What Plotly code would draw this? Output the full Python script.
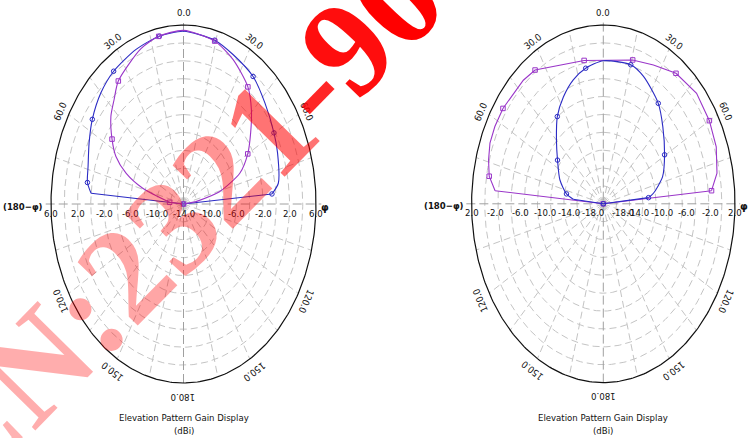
import numpy as np
import plotly.graph_objects as go

# ---------------- data ----------------
# Left chart : gain scale -14 dBi (centre) .. 6 dBi (rim)
left_rmin, left_rmax = -14.0, 6.0
left_ticks = [6.0, 2.0, -2.0, -6.0, -10.0, -14.0]

left_blue_theta = [-90, -85.1, -80.6, -73.8, -64.4, -55.5, -45.1, -35.4, -22.5, -11.0, 0.0,
                   14.4, 24.1, 36.4, 47.3, 59.8, 68.1, 80.8, 85.2, 90]
left_blue_gain = [-14.0, 0.0, 0.7, 1.0, 1.8, 2.7, 3.6, 4.2, 4.7, 5.1, 5.3,
                  4.9, 4.3, 3.7, 2.7, 1.8, 1.3, 0.5, -0.6, -14.0]
left_blue_mk_theta = [-80.6, -55.5, -35.4, -11.0, 14.4, 36.4, 59.8, 85.2, 90]
left_blue_mk_gain = [0.7, 2.7, 4.2, 5.1, 4.9, 3.7, 1.8, -0.6, -14.0]

left_purple_theta = [-90, -84.8, -74.0, -68.4, -62.5, -56.1, -48.2, -41.8, -35.6, -20.3, -11.3, 0.0,
                     14.5, 24.8, 36.6, 44.2, 51.8, 60.0, 67.9, 75.8, 82.0, 90]
left_purple_gain = [-14.0, -11.9, -7.6, -4.7, -2.5, -1.0, 0.7, 1.7, 2.9, 4.5, 5.1, 5.4,
                    4.8, 3.8, 2.3, 0.7, -1.1, -2.8, -4.8, -8.4, -12.1, -14.0]
left_purple_mk_theta = [-84.8, -56.1, -35.6, -11.3, 14.5, 36.6, 60.0, 90]
left_purple_mk_gain = [-11.9, -1.0, 2.9, 5.1, 4.8, 2.3, -2.8, -14.0]

# Right chart : gain scale -18 dBi (centre) .. 2 dBi (rim)
right_rmin, right_rmax = -18.0, 2.0
right_ticks = [2.0, -2.0, -6.0, -10.0, -14.0, -18.0]

right_blue_theta = [-90, -83.7, -78.8, -68.0, -54.9, -44.8, -35.6, -26.9, -18.2, -10.0, 0.0,
                    15.0, 23.2, 36.6, 46.3, 59.5, 71.4, 81.2, 84.3, 90]
right_blue_gain = [-18.0, -13.4, -12.3, -10.9, -9.5, -7.9, -6.0, -4.6, -3.4, -2.6, -2.0,
                   -1.9, -2.5, -4.0, -5.5, -7.2, -8.5, -10.3, -11.1, -18.0]
right_blue_mk_theta = [-78.8, -54.9, -35.6, -10.0, 15.0, 36.6, 59.5, 84.3, 90]
right_blue_mk_gain = [-12.3, -9.5, -6.0, -2.6, -1.9, -4.0, -7.2, -11.1, -18.0]

right_purple_theta = [-90, -84.9, -79.9, -74.3, -68.5, -62.3, -55.0, -41.3, -34.7, -10.3,
                      15.5, 26.1, 37.1, 48.9, 60.0, 69.6, 78.8, 84.9, 90]
right_purple_gain = [-18.0, -1.5, -0.4, 0.1, 0.5, 0.6, 0.6, 0.4, 0.2, -1.7,
                     -1.3, -0.7, 0.3, 0.8, 0.6, 0.3, -0.4, -1.5, -18.0]
right_purple_mk_theta = [-79.9, -55.0, -34.7, -10.3, 15.5, 37.1, 60.0, 84.9, 90]
right_purple_mk_gain = [-0.4, 0.6, 0.2, -1.7, -1.3, 0.3, 0.6, -1.5, -18.0]

angle_labels = [0, 30, 60, 120, 150, 180]
title_text = "Elevation Pattern Gain Display"
unit_text = "(dBi)"
left_axis_label = "(180\u2212\u03c6)"
right_axis_label = "\u03c6"
watermark_chars = ["C", "N", ":", "2", "3", "2", "1", "-", "9", "0", "."]
watermark_alpha = [0.30, 0.32, 0.35, 0.35, 0.37, 0.42, 0.55, 0.85, 0.95, 1.0, 1.0]

# ---------------- layout geometry (pixels) ----------------
W, H = 749, 438
GEOM = [dict(cx=183.5, cy=204.0, a=132.5, b=179.0, dom=(0.0, 0.5), push=0.0),
        dict(cx=603.3, cy=203.8, a=131.7, b=178.8, dom=(0.5, 1.0), push=10.0)]

BLUE = "#2b2bc4"
PURPLE = "#9a36c9"
GRID = "#c4c4c4"
AXISC = "#a0a0a0"
FONT = "DejaVu Sans Condensed, Liberation Sans Narrow, Arial Narrow, Liberation Sans, Arial"

fig = go.Figure()
annotations = []


def to_xy(theta_deg, gain, rmin, rmax):
    t = np.radians(np.asarray(theta_deg, dtype=float))
    rn = (np.clip(np.asarray(gain, dtype=float), rmin, rmax) - rmin) / (rmax - rmin)
    return rn * np.sin(t), rn * np.cos(t)


panels = [
    dict(rmin=left_rmin, rmax=left_rmax, ticks=left_ticks,
         curves=[(left_blue_theta, left_blue_gain, left_blue_mk_theta, left_blue_mk_gain, BLUE, "circle-open", "spline"),
                 (left_purple_theta, left_purple_gain, left_purple_mk_theta, left_purple_mk_gain, PURPLE, "square-open", "spline")]),
    dict(rmin=right_rmin, rmax=right_rmax, ticks=right_ticks,
         curves=[(right_purple_theta, right_purple_gain, right_purple_mk_theta, right_purple_mk_gain, PURPLE, "square-open", "linear"),
                 (right_blue_theta, right_blue_gain, right_blue_mk_theta, right_blue_mk_gain, BLUE, "circle-open", "spline")]),
]

phi = np.linspace(0, 2 * np.pi, 361)
layout_axes = {}
for i, (pn, g) in enumerate(zip(panels, GEOM)):
    xa = "x" if i == 0 else "x2"
    ya = "y" if i == 0 else "y2"
    rmin, rmax = pn["rmin"], pn["rmax"]
    span = rmax - rmin
    # rings every 2 dB
    nring = int(round(span / 2))
    for k in range(1, nring):
        rr = k / nring
        fig.add_trace(go.Scatter(x=rr * np.sin(phi), y=rr * np.cos(phi), mode="lines", xaxis=xa, yaxis=ya,
                                 line=dict(color=GRID, width=1, dash="7px,4px"), hoverinfo="skip", showlegend=False))
    # spokes every 15 deg
    for ang in range(0, 360, 15):
        if ang % 90 == 0:
            continue
        t = np.radians(ang)
        fig.add_trace(go.Scatter(x=[0, np.sin(t)], y=[0, np.cos(t)], mode="lines", xaxis=xa, yaxis=ya,
                                 line=dict(color=GRID, width=1, dash="7px,4px"), hoverinfo="skip", showlegend=False))
    # main axes
    fig.add_trace(go.Scatter(x=[-1.04, 1.04], y=[0, 0], mode="lines", xaxis=xa, yaxis=ya,
                             line=dict(color=AXISC, width=1, dash="9px,4px"), hoverinfo="skip", showlegend=False))
    fig.add_trace(go.Scatter(x=[0, 0], y=[-1.0, 1.02], mode="lines", xaxis=xa, yaxis=ya,
                             line=dict(color=AXISC, width=1, dash="9px,4px"), hoverinfo="skip", showlegend=False))
    # rim
    fig.add_trace(go.Scatter(x=np.sin(phi), y=np.cos(phi), mode="lines", xaxis=xa, yaxis=ya,
                             line=dict(color="#111111", width=1.2), hoverinfo="skip", showlegend=False))
    # curves
    for th, gn, mth, mgn, col, sym, shape in pn["curves"]:
        x, y = to_xy(th, gn, rmin, rmax)
        fig.add_trace(go.Scatter(x=x[1:-1], y=y[1:-1], mode="lines", xaxis=xa, yaxis=ya,
                                 line=dict(color=col, width=1.1, shape=shape, smoothing=0.7),
                                 hoverinfo="skip", showlegend=False))
        for seg in ((0, 2), (-2, None)):
            fig.add_trace(go.Scatter(x=x[seg[0]:seg[1]], y=y[seg[0]:seg[1]], mode="lines", xaxis=xa, yaxis=ya,
                                     line=dict(color=col, width=1.1), hoverinfo="skip", showlegend=False))
        mx, my = to_xy(mth, mgn, rmin, rmax)
        fig.add_trace(go.Scatter(x=mx, y=my, mode="markers", xaxis=xa, yaxis=ya,
                                 marker=dict(color=col, size=4.5, symbol=sym, line=dict(width=1, color=col)),
                                 hoverinfo="skip", showlegend=False))
    # radial tick labels
    for tv in pn["ticks"]:
        rn = (tv - rmin) / span
        push = g["push"] * (1 - rn)
        if rn > 0:
            items = [(-rn, -push, "center"), (rn, push, "center")]
        elif i == 0:
            items = [(0, 0, "center")]
        else:
            items = [(0, 3, "right"), (0, 7, "left")]
        for xpos, xshift, anc in items:
            annotations.append(dict(x=xpos, y=0, xref=xa, yref=ya, text=f"{tv:.1f}", showarrow=False,
                                    yshift=-9, xshift=xshift, font=dict(family=FONT, size=9.5, color="#111"),
                                    xanchor=anc, yanchor="middle"))
    # angle labels (tangential)
    for ang in angle_labels:
        for s in ([1] if ang in (0, 180) else [-1, 1]):
            t = np.radians(s * ang)
            rr = 1.075
            tang = np.degrees(np.arctan2(g["b"] * np.sin(t), g["a"] * np.cos(t)))
            ysh = -4 if ang in (30, 60) else -1
            annotations.append(dict(x=rr * np.sin(t), y=rr * np.cos(t), xref=xa, yref=ya, text=f"{ang:.1f}",
                                    showarrow=False, textangle=float(tang), yshift=ysh,
                                    font=dict(family=FONT, size=9.5, color="#111"),
                                    xanchor="center", yanchor="middle"))
    # axis end labels
    annotations.append(dict(x=-1.0, y=0, xref=xa, yref=ya, text=f"<b>{left_axis_label}</b>", showarrow=False,
                            xanchor="right", yanchor="middle", xshift=-6, yshift=-2,
                            font=dict(family=FONT, size=9.5, color="#111")))
    annotations.append(dict(x=1.0, y=0, xref=xa, yref=ya, text=f"<b>{right_axis_label}</b>", showarrow=False,
                            xanchor="left", yanchor="middle", xshift=3, yshift=-3,
                            font=dict(family=FONT, size=11, color="#111")))
    # titles
    annotations.append(dict(x=0, y=(g["cy"] - 417) / g["b"], xref=xa, yref=ya, text=title_text, showarrow=False,
                            font=dict(family=FONT, size=9.5, color="#111"), xanchor="center", yanchor="middle"))
    annotations.append(dict(x=0, y=(g["cy"] - 430) / g["b"], xref=xa, yref=ya, text=unit_text, showarrow=False,
                            font=dict(family=FONT, size=9.5, color="#111"), xanchor="center", yanchor="middle"))

    d0, d1 = g["dom"]
    xr = [(d0 * W - g["cx"]) / g["a"], (d1 * W - g["cx"]) / g["a"]]
    yr = [(g["cy"] - H) / g["b"], g["cy"] / g["b"]]
    suffix = "" if i == 0 else "2"
    layout_axes["xaxis" + suffix] = dict(domain=[d0, d1], range=xr, visible=False, fixedrange=True)
    layout_axes["yaxis" + suffix] = dict(domain=[0, 1], range=yr, visible=False, fixedrange=True,
                                         anchor="x" + suffix)
layout_axes["xaxis"]["anchor"] = "y"
layout_axes["xaxis2"]["anchor"] = "y2"

# watermark: one rotated annotation per glyph, laid along a common baseline
WM_SIZE = 136
WM_ANGLE = -45.5
WM_ANCHOR = (35.0, 365.0)      # pixel centre of the "N" glyph
ADV = {"C": 0.722, "N": 0.722, ":": 0.333, "-": 0.333, ".": 0.25}   # Times Bold advance widths (em)
adv = [ADV.get(c, 0.5) * WM_SIZE for c in watermark_chars]
centres = np.cumsum(adv) - np.array(adv) / 2
centres = centres - centres[watermark_chars.index("N")]
ux, uy = np.cos(np.radians(-WM_ANGLE)), -np.sin(np.radians(-WM_ANGLE))
for ch, al, s in zip(watermark_chars, watermark_alpha, centres):
    px = WM_ANCHOR[0] + s * ux
    py = WM_ANCHOR[1] + s * uy
    annotations.append(dict(x=px / W, y=1 - py / H, xref="paper", yref="paper", text=f"<b>{ch}</b>",
                            showarrow=False, textangle=WM_ANGLE, xanchor="center", yanchor="middle",
                            font=dict(family="Liberation Serif, Times New Roman, serif", size=WM_SIZE,
                                      color=f"rgba(255,0,0,{al})")))

fig.update_layout(width=W, height=H, margin=dict(l=0, r=0, t=0, b=0), paper_bgcolor="white",
                  plot_bgcolor="rgba(0,0,0,0)", showlegend=False, annotations=annotations, **layout_axes)
fig.write_html("out.html", config={"displayModeBar": False, "staticPlot": True},
               post_script="document.body.style.margin='0';document.body.style.overflow='hidden';")
